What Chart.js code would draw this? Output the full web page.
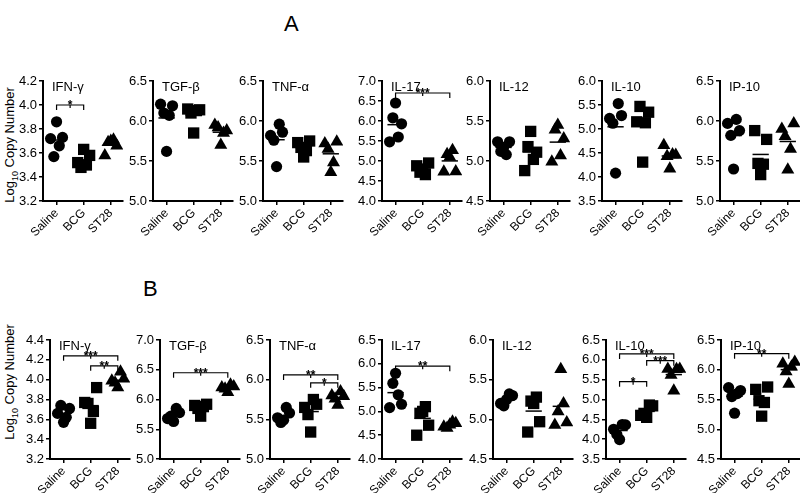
<!DOCTYPE html>
<html>
<head>
<meta charset="utf-8">
<script src="https://cdn.jsdelivr.net/npm/chart.js@4.4.1/dist/chart.umd.min.js"></script>
<style>
  body { margin: 0; background: #fff; width: 800px; height: 493px; position: relative; overflow: hidden;
         font-family: "Liberation Sans", Arial, sans-serif; }
  canvas { position: absolute; }
  .big { position: absolute; font-size: 22px; color: #000; }
  .ytitle { position: absolute; font-size: 13px; white-space: nowrap; color: #000;
            transform: translate(-50%, -50%) rotate(-90deg); }
  .ytitle sub { font-size: 9px; }
</style>
</head>
<body>
<div class="big" style="left:284px;top:11px">A</div>
<div class="big" style="left:143px;top:276px">B</div>
<div class="ytitle" style="left:11px;top:145px">Log<sub>10</sub> Copy Number</div>
<div class="ytitle" style="left:11px;top:382px">Log<sub>10</sub> Copy Number</div>

<script>
const FONT = '"Liberation Sans", Arial, sans-serif';

const groups = ["Saline", "BCG", "ST28"];
const cytokines = ["IFN-γ", "TGF-β", "TNF-α", "IL-17", "IL-12", "IL-10", "IP-10"];
// spread of the five animals around each group
const jitter = [0, -0.22, 0.22, -0.1, 0.1];

// panel A values: [Saline, BCG, ST28]
const aIFN  = [[3.86, 3.72, 3.73, 3.57, 3.66], [3.63, 3.52, 3.58, 3.48, 3.50], [3.70, 3.58, 3.66, 3.69, 3.71]];
const aTGF  = [[5.62, 6.21, 6.19, 6.10, 6.07], [5.85, 6.15, 6.14, 6.10, 6.13], [5.70, 5.95, 5.88, 5.92, 5.85]];
const aTNF  = [[5.43, 5.82, 5.86, 5.76, 5.96], [5.55, 5.73, 5.75, 5.67, 5.63], [5.36, 5.72, 5.74, 5.65, 5.48]];
const aIL17 = [[6.45, 5.48, 5.93, 6.08, 5.60], [4.80, 4.88, 4.95, 4.72, 4.66], [5.10, 4.73, 4.74, 5.17, 5.27]];
const aIL12 = [[5.17, 5.24, 5.24, 5.12, 5.08], [5.37, 4.88, 5.11, 5.18, 5.02], [5.45, 4.99, 5.28, 5.39, 5.07]];
const aIL10 = [[4.08, 5.22, 5.28, 5.12, 5.53], [4.31, 5.15, 5.35, 5.47, 5.13], [4.17, 4.66, 4.46, 4.43, 4.47]];
const aIP10 = [[5.40, 5.97, 5.88, 5.82, 6.02], [5.33, 5.88, 5.77, 5.47, 5.46], [5.39, 5.90, 5.97, 5.81, 5.65]];

// panel B values
const bIFN  = [[3.57, 3.66, 3.71, 3.74, 3.62], [3.56, 3.77, 3.92, 3.76, 3.68], [3.92, 3.99, 4.01, 3.97, 4.08]];
const bTGF  = [[5.63, 5.68, 5.78, 5.72, 5.85], [5.72, 5.90, 5.92, 5.85, 5.88], [6.12, 6.20, 6.22, 6.18, 6.25]];
const bTNF  = [[5.49, 5.52, 5.58, 5.46, 5.65], [5.34, 5.65, 5.69, 5.56, 5.75], [5.68, 5.80, 5.79, 5.76, 5.85]];
const bIL17 = [[5.80, 5.08, 5.15, 5.59, 5.35], [5.00, 4.50, 4.71, 4.96, 5.10], [4.72, 4.68, 4.75, 4.65, 4.78]];
const bIL12 = [[5.25, 5.20, 5.30, 5.17, 5.32], [5.20, 4.84, 4.97, 5.23, 5.28], [5.63, 4.93, 4.96, 5.10, 5.20]];
const bIL10 = [[3.99, 4.25, 4.36, 4.12, 4.37], [4.55, 4.60, 4.84, 4.65, 4.86], [5.22, 5.77, 5.77, 5.62, 5.76]];
const bIP10 = [[5.27, 5.70, 5.65, 5.55, 5.60], [5.22, 5.67, 5.71, 5.48, 5.45], [5.76, 6.10, 6.13, 5.97, 6.05]];

// y axis ranges (tick labels)
const yMinA  = [3.2, 5.0, 5.0, 4.0, 4.5, 3.5, 5.0];
const yMaxA  = [4.2, 6.5, 6.5, 7.0, 6.0, 6.0, 6.5];
const yStepA = [0.2, 0.5, 0.5, 0.5, 0.5, 0.5, 0.5];
const yMinB  = [3.2, 5.0, 5.0, 4.0, 4.5, 3.5, 4.5];
const yMaxB  = [4.4, 7.0, 6.5, 6.5, 6.0, 6.5, 6.5];
const yStepB = [0.2, 0.5, 0.5, 0.5, 0.5, 0.5, 0.5];

// significance brackets: [from group, to group, y, stars]
const sigA = [[[1, 2, 4.0, "*"]], [], [], [[1, 3, 6.7, "***"]], [], [], []];
const sigB = [
  [[1, 3, 4.24, "***"], [2, 3, 4.14, "**"]],
  [[1, 3, 6.45, "***"]],
  [[1, 3, 6.06, "**"], [2, 3, 5.96, "*"]],
  [[1, 3, 5.95, "**"]],
  [],
  [[1, 2, 5.45, "*"], [1, 3, 6.15, "***"], [2, 3, 5.98, "***"]],
  [[1, 3, 6.27, "**"]]
];

const rowA = [aIFN, aTGF, aTNF, aIL17, aIL12, aIL10, aIP10];
const rowB = [bIFN, bTGF, bTNF, bIL17, bIL12, bIL10, bIP10];

// layout of the panels (y axis line x, plot top)
const axisXA = [43, 153, 263, 382, 490, 602, 720];
const axisXB = [50, 160, 270, 382, 493, 606, 721];
const topA = 81, topB = 340;
const plotHA = 120, plotHB = 119;

const shapes = ["circle", "rect", "triangle"];
const radii = [5.6, 8, 7.5];

function makePanel(axisX, top, plotH, title, vals, yMin, yMax, yStep, brackets) {
  const cv = document.createElement("canvas");
  const yW = 34, xH = 45, padTop = 10;
  cv.width = yW + 80 + 8;
  cv.height = padTop + plotH + xH;
  cv.style.left = (axisX - yW) + "px";
  cv.style.top = (top - padTop) + "px";
  document.body.appendChild(cv);

  const points = vals.map((g, gi) => ({
    data: g.map((v, k) => ({ x: gi + 1 + jitter[k], y: v })),
    pointStyle: shapes[gi],
    pointRadius: radii[gi],
    backgroundColor: "#000",
    borderColor: "#000",
    borderWidth: 0
  }));
  const means = vals.map((g, gi) => {
    const m = g.reduce((a, b) => a + b, 0) / g.length;
    return {
      type: "line",
      data: [{ x: gi + 0.7, y: m }, { x: gi + 1.3, y: m }],
      borderColor: "#000",
      borderWidth: 1.5,
      pointRadius: 0,
      showLine: true
    };
  });

  const deco = {
    id: "deco",
    afterDatasetsDraw(chart) {
      const { ctx, chartArea, scales } = chart;
      ctx.save();
      ctx.fillStyle = "#000";
      ctx.strokeStyle = "#000";
      ctx.font = "13px " + FONT;
      ctx.textBaseline = "middle";
      ctx.textAlign = "left";
      ctx.fillText(title, chartArea.left + 9, chartArea.top + 6);

      ctx.lineWidth = 1.2;
      ctx.font = "bold 12px " + FONT;
      ctx.textAlign = "center";
      ctx.textBaseline = "alphabetic";
      brackets.forEach(([a, b, yv, stars]) => {
        const x1 = scales.x.getPixelForValue(a);
        const x2 = scales.x.getPixelForValue(b);
        const yy = scales.y.getPixelForValue(yv);
        ctx.beginPath();
        ctx.moveTo(x1, yy + 5);
        ctx.lineTo(x1, yy);
        ctx.lineTo(x2, yy);
        ctx.lineTo(x2, yy + 5);
        const xm = (x1 + x2) / 2;
        ctx.moveTo(xm, yy);
        ctx.lineTo(xm, yy + 3);
        ctx.stroke();
        ctx.fillText(stars, xm, yy + 4);
      });
      ctx.restore();
    }
  };

  const gridOpts = { display: true, drawOnChartArea: false, tickLength: 4, color: "#000", lineWidth: 1.5 };
  const borderOpts = { display: true, color: "#000", width: 2 };

  new Chart(cv, {
    type: "scatter",
    data: { datasets: [...points, ...means] },
    options: {
      responsive: false,
      animation: false,
      events: [],
      devicePixelRatio: 1,
      layout: { padding: { top: padTop, right: 8, left: 0, bottom: 0 } },
      plugins: { legend: { display: false }, tooltip: { enabled: false } },
      scales: {
        x: {
          type: "linear",
          min: 0.5,
          max: 3.45,
          afterBuildTicks: s => { s.ticks = groups.map((g, i) => ({ value: i + 1 })); },
          afterFit: s => { s.height = xH; },
          ticks: {
            callback: v => groups[v - 1] || "",
            minRotation: 45, maxRotation: 45, autoSkip: false,
            color: "#000", font: { size: 12, family: FONT }, padding: 1
          },
          grid: gridOpts,
          border: borderOpts
        },
        y: {
          min: yMin,
          max: yMax,
          afterFit: s => { s.width = yW; },
          ticks: {
            stepSize: yStep,
            callback: v => v.toFixed(1),
            color: "#000", font: { size: 13, family: FONT }, padding: 2
          },
          grid: gridOpts,
          border: borderOpts
        }
      }
    },
    plugins: [deco]
  });
}

rowA.forEach((vals, i) =>
  makePanel(axisXA[i], topA, plotHA, cytokines[i], vals, yMinA[i], yMaxA[i], yStepA[i], sigA[i]));
rowB.forEach((vals, i) =>
  makePanel(axisXB[i], topB, plotHB, cytokines[i], vals, yMinB[i], yMaxB[i], yStepB[i], sigB[i]));
</script>
</body>
</html>
